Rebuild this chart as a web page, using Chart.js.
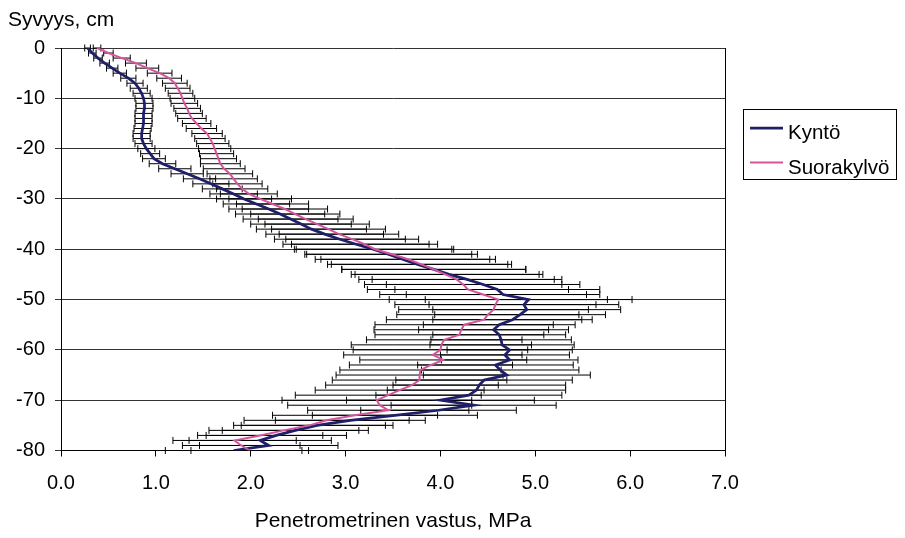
<!DOCTYPE html>
<html>
<head>
<meta charset="utf-8">
<script src="https://cdn.jsdelivr.net/npm/chart.js@4/dist/chart.umd.min.js"></script>
<style>
html,body{margin:0;padding:0;background:#fff;}
#wrap{width:905px;height:538px;position:relative;}
</style>
</head>
<body>
<div id="wrap"><canvas id="c" width="905" height="538"></canvas></div>
<script>
// ---- data ----
const depths = [0,-1,-2,-3,-4,-5,-6,-7,-8,-9,-10,-11,-12,-13,-14,-15,-16,-17,-18,-19,-20,
  -21,-22,-23,-24,-25,-26,-27,-28,-29,-30,-31,-32,-33,-34,-35,-36,-37,-38,-39,-40,
  -41,-42,-43,-44,-45,-46,-47,-48,-49,-50,-51,-52,-53,-54,-55,-56,-57,-58,-59,-60,
  -61,-62,-63,-64,-65,-66,-67,-68,-69,-70,-71,-72,-73,-74,-75,-76,-77,-78,-79,-80];

const kyntoMean = [0.28,0.33,0.39,0.46,0.54,0.62,0.71,0.78,0.82,0.85,0.87,
  0.88,0.88,0.87,0.87,0.87,0.86,0.85,0.85,0.87,0.90,
  0.94,0.98,1.07,1.20,1.33,1.46,1.58,1.70,1.82,1.93,
  2.06,2.19,2.31,2.42,2.53,2.64,2.78,2.94,3.11,3.29,
  3.45,3.60,3.76,3.93,4.09,4.28,4.45,4.60,4.66,4.93,
  4.88,4.91,4.84,4.76,4.62,4.56,4.62,4.64,4.65,4.73,
  4.68,4.73,4.58,4.63,4.70,4.46,4.41,4.38,4.30,4.00,
  4.35,3.98,3.52,3.05,2.70,2.47,2.27,2.10,2.19,1.82];

const kyntoErr = [0.03,0.04,0.045,0.05,0.06,0.07,0.08,0.085,0.09,0.09,0.09,
  0.09,0.09,0.09,0.09,0.09,0.09,0.09,0.09,0.09,0.09,
  0.10,0.12,0.14,0.17,0.17,0.17,0.19,0.21,0.25,0.29,
  0.35,0.42,0.47,0.50,0.53,0.58,0.62,0.69,0.77,0.83,
  0.88,0.92,0.95,0.97,0.99,1.00,1.02,1.08,1.02,1.09,
  1.00,0.99,0.90,0.84,0.80,0.79,0.70,0.74,0.76,0.66,
  0.68,0.72,0.82,0.83,0.88,0.93,0.91,0.94,0.98,0.99,
  0.87,0.82,0.87,0.79,0.80,0.77,0.74,0.75,0.73,0.72];

const suoraMean = [0.38,0.50,0.64,0.79,0.91,1.04,1.14,1.20,1.23,1.26,1.28,
  1.30,1.33,1.35,1.38,1.43,1.48,1.54,1.57,1.60,1.62,
  1.64,1.66,1.68,1.72,1.78,1.82,1.86,1.91,1.98,2.10,
  2.23,2.36,2.47,2.58,2.70,2.82,2.93,3.07,3.20,3.31,
  3.49,3.66,3.80,3.93,4.05,4.17,4.24,4.29,4.45,4.61,
  4.58,4.56,4.50,4.46,4.25,4.22,4.20,4.04,4.01,4.00,
  3.92,4.03,3.90,3.79,3.78,3.78,3.70,3.57,3.45,3.33,
  3.36,3.45,3.10,2.80,2.62,2.35,2.10,1.83,1.90,1.99];

const suoraErr = [0.04,0.05,0.09,0.11,0.12,0.13,0.13,0.13,0.13,0.13,0.13,
  0.14,0.14,0.14,0.15,0.15,0.16,0.16,0.16,0.17,0.17,
  0.18,0.19,0.21,0.22,0.24,0.25,0.26,0.27,0.30,0.33,
  0.38,0.45,0.47,0.50,0.55,0.60,0.63,0.70,0.77,0.83,
  0.90,0.92,0.95,0.97,0.99,1.03,1.04,1.06,1.09,1.15,
  1.06,1.00,0.96,1.03,0.94,0.92,0.89,0.82,0.95,0.92,
  0.94,0.88,0.86,0.85,0.88,0.92,0.91,0.89,0.98,1.00,
  0.97,0.85,0.87,0.87,0.80,0.79,0.66,0.65,0.62,0.62];

const seriesNames = ['Kyntö', 'Suorakylvö'];
const xTicks = [0,1,2,3,4,5,6,7];
const xTickLabels = ['0.0','1.0','2.0','3.0','4.0','5.0','6.0','7.0'];
const yTicks = [0,-10,-20,-30,-40,-50,-60,-70,-80];
const yTickLabels = ['0','-10','-20','-30','-40','-50','-60','-70','-80'];
const yTitle = 'Syvyys, cm';
const xTitle = 'Penetrometrinen vastus, MPa';

// ---- styling ----
const FONT = "'Liberation Sans', Arial, Helvetica, sans-serif";
const NAVY = '#1e1e69';
const PINK = '#d5559c';
Chart.defaults.font.family = FONT;
Chart.defaults.color = '#000';

const toPoints = (vals) => vals.map((v, i) => ({x: v, y: depths[i]}));

const errorBarPlugin = {
  id: 'errorBars',
  beforeDatasetsDraw(chart) {
    const {ctx, scales: {x, y}} = chart;
    ctx.save();
    ctx.strokeStyle = '#000';
    ctx.lineWidth = 1;
    chart.data.datasets.forEach((ds) => {
      ds.means.forEach((m, i) => {
        const e = ds.errors[i];
        const py = y.getPixelForValue(depths[i]);
        const x1 = x.getPixelForValue(m - e);
        const x2 = x.getPixelForValue(m + e);
        ctx.beginPath();
        ctx.moveTo(x1, py); ctx.lineTo(x2, py);
        ctx.moveTo(x1, py - 3.5); ctx.lineTo(x1, py + 3.5);
        ctx.moveTo(x2, py - 3.5); ctx.lineTo(x2, py + 3.5);
        ctx.stroke();
      });
    });
    ctx.restore();
  }
};

const framePlugin = {
  id: 'frame',
  beforeDatasetsDraw(chart) {
    const {ctx, chartArea: a} = chart;
    ctx.save();
    ctx.strokeStyle = '#000';
    ctx.lineWidth = 1;
    ctx.beginPath();
    ctx.moveTo(Math.round(a.right) + 0.5, a.top);
    ctx.lineTo(Math.round(a.right) + 0.5, a.bottom);
    ctx.stroke();
    ctx.restore();
  }
};

const legendPlugin = {
  id: 'boxLegend',
  afterDraw(chart) {
    const ctx = chart.ctx;
    ctx.save();
    ctx.strokeStyle = '#000';
    ctx.lineWidth = 1;
    ctx.strokeRect(743.5, 109.5, 153, 70);
    ctx.font = '20.5px ' + FONT;
    ctx.textBaseline = 'alphabetic';
    ctx.textAlign = 'left';
    seriesNames.forEach((name, i) => {
      const ds = chart.data.datasets.find(d => d.label === name);
      const base = 139 + i * 34.5;
      ctx.strokeStyle = ds.borderColor;
      ctx.lineWidth = ds.borderWidth;
      ctx.beginPath();
      ctx.moveTo(750, base - 11);
      ctx.lineTo(783, base - 11);
      ctx.stroke();
      ctx.fillStyle = '#000';
      ctx.fillText(name, 788, base);
    });
    ctx.restore();
  }
};

new Chart(document.getElementById('c'), {
  type: 'scatter',
  data: {
    datasets: [
      {label: seriesNames[0], data: toPoints(kyntoMean), means: kyntoMean, errors: kyntoErr,
       showLine: true, borderColor: NAVY, backgroundColor: NAVY, borderWidth: 2.75,
       pointRadius: 0, tension: 0, order: 1},
      {label: seriesNames[1], data: toPoints(suoraMean), means: suoraMean, errors: suoraErr,
       showLine: true, borderColor: PINK, backgroundColor: PINK, borderWidth: 2,
       pointRadius: 0, tension: 0, order: 0}
    ]
  },
  options: {
    responsive: false,
    devicePixelRatio: 1,
    animation: false,
    layout: {padding: {left: 8, right: 180, top: 0, bottom: 0}},
    plugins: {
      legend: {display: false},
      tooltip: {enabled: false},
      title: {display: true, text: yTitle, align: 'start', color: '#000',
              font: {size: 21, weight: 'normal'}, padding: {top: 7.4, bottom: 15.4}}
    },
    scales: {
      x: {
        type: 'linear', min: 0, max: 7,
        afterBuildTicks: (s) => { s.ticks = xTicks.map(v => ({value: v})); },
        afterFit: (s) => { s.height = 87.5; },
        ticks: {padding: 15, color: '#000', font: {size: 20}, maxRotation: 0, autoSkip: false,
                callback: (v) => xTickLabels[xTicks.indexOf(v)]},
        grid: {drawOnChartArea: false, drawTicks: true, tickLength: 6, color: '#000'},
        border: {display: true, color: '#000', width: 1},
        title: {display: true, text: xTitle, color: '#000', font: {size: 21},
                padding: {top: 0, bottom: 3.8}}
      },
      y: {
        type: 'linear', min: -80, max: 0,
        afterBuildTicks: (s) => { s.ticks = yTicks.slice().reverse().map(v => ({value: v})); },
        afterFit: (s) => { s.width = 53; },
        ticks: {padding: 10, color: '#000', font: {size: 20}, autoSkip: false,
                callback: (v) => yTickLabels[yTicks.indexOf(v)]},
        grid: {color: '#333', lineWidth: 1, drawTicks: true, tickLength: 6},
        border: {display: true, color: '#000', width: 1}
      }
    }
  },
  plugins: [errorBarPlugin, framePlugin, legendPlugin]
});
</script>
</body>
</html>
